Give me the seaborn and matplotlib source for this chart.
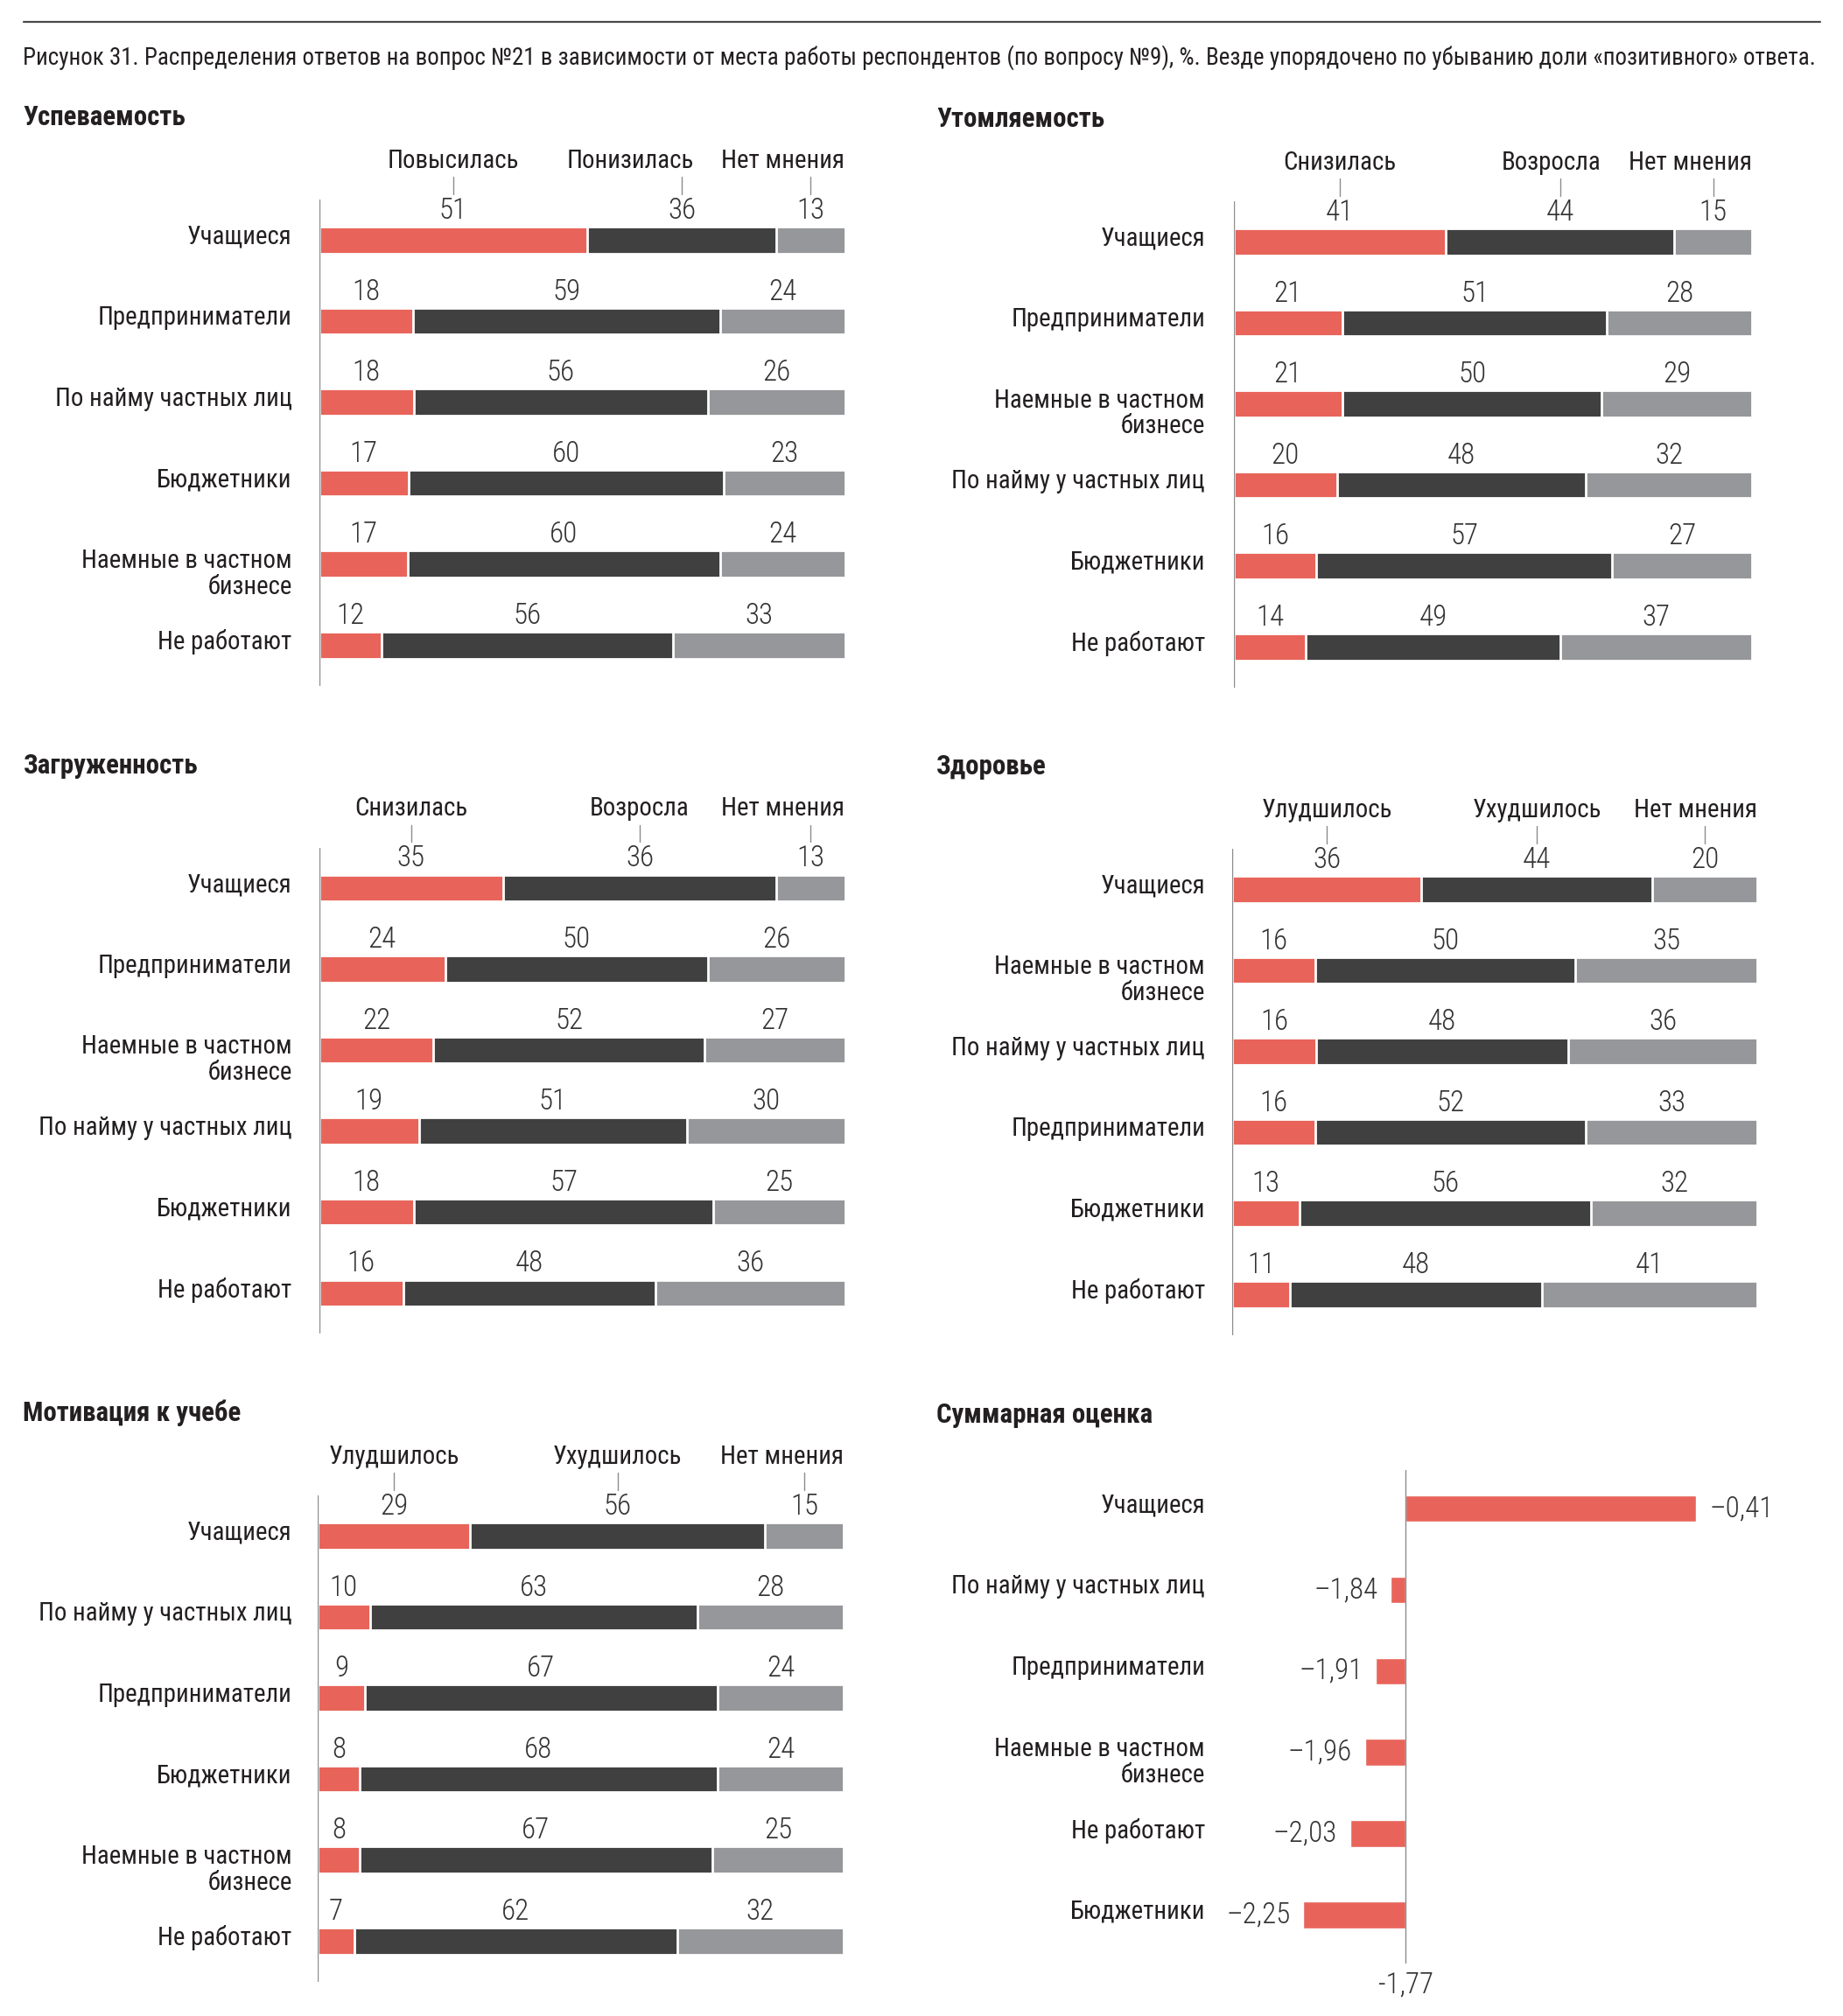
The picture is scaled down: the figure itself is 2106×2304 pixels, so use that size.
import matplotlib
matplotlib.use("Agg")
import matplotlib.pyplot as plt
import matplotlib.transforms as mtransforms
from matplotlib import font_manager as fm
import seaborn as sns
import pandas as pd

W, H, DPI = 2106, 2304, 100

RED = "#E8645A"
DARK = "#404040"
GREY = "#96979A"
AXIS = "#8C8C8C"
INK = "#231F20"

TITLE = ("Рисунок 31. Распределения ответов на вопрос №21 в зависимости от места работы "
         "респондентов (по вопросу №9), %. Везде упорядочено по убыванию доли «позитивного» ответа.")

# --- Успеваемость
usp_groups = ["Учащиеся", "Предприниматели", "По найму частных лиц", "Бюджетники",
              "Наемные в частном\nбизнесе", "Не работают"]
usp_answers = ["Повысилась", "Понизилась", "Нет мнения"]
usp_pos = [51, 18, 18, 17, 17, 12]
usp_neg = [36, 59, 56, 60, 60, 56]
usp_none = [13, 24, 26, 23, 24, 33]

# --- Утомляемость
utm_groups = ["Учащиеся", "Предприниматели", "Наемные в частном\nбизнесе",
              "По найму у частных лиц", "Бюджетники", "Не работают"]
utm_answers = ["Снизилась", "Возросла", "Нет мнения"]
utm_pos = [41, 21, 21, 20, 16, 14]
utm_neg = [44, 51, 50, 48, 57, 49]
utm_none = [15, 28, 29, 32, 27, 37]

# --- Загруженность (bar for Учащиеся is drawn ~52 in the source, but printed as 36)
zag_groups = ["Учащиеся", "Предприниматели", "Наемные в частном\nбизнесе",
              "По найму у частных лиц", "Бюджетники", "Не работают"]
zag_answers = ["Снизилась", "Возросла", "Нет мнения"]
zag_pos = [35, 24, 22, 19, 18, 16]
zag_neg = [52, 50, 52, 51, 57, 48]
zag_neg_printed = [36, 50, 52, 51, 57, 48]
zag_none = [13, 26, 27, 30, 25, 36]

# --- Здоровье
zdr_groups = ["Учащиеся", "Наемные в частном\nбизнесе", "По найму у частных лиц",
              "Предприниматели", "Бюджетники", "Не работают"]
zdr_answers = ["Улудшилось", "Ухудшилось", "Нет мнения"]
zdr_pos = [36, 16, 16, 16, 13, 11]
zdr_neg = [44, 50, 48, 52, 56, 48]
zdr_none = [20, 35, 36, 33, 32, 41]

# --- Мотивация к учебе
mot_groups = ["Учащиеся", "По найму у частных лиц", "Предприниматели", "Бюджетники",
              "Наемные в частном\nбизнесе", "Не работают"]
mot_answers = ["Улудшилось", "Ухудшилось", "Нет мнения"]
mot_pos = [29, 10, 9, 8, 8, 7]
mot_neg = [56, 63, 67, 68, 67, 62]
mot_none = [15, 28, 24, 24, 25, 32]

# --- Суммарная оценка
sum_groups = ["Учащиеся", "По найму у частных лиц", "Предприниматели",
              "Наемные в частном\nбизнесе", "Не работают", "Бюджетники"]
sum_scores = [-0.41, -1.84, -1.91, -1.96, -2.03, -2.25]
sum_base = -1.77

sns.set_style("white")
names = {f.name for f in fm.fontManager.ttflist}
stretch = "normal"
family = "DejaVu Sans"
for cand in ["Liberation Sans Narrow", "Roboto Condensed", "Open Sans Condensed"]:
    if cand in names:
        family = cand
        break
else:
    if any(f.name == "DejaVu Sans" and f.stretch == "condensed" for f in fm.fontManager.ttflist):
        stretch = "condensed"
    elif "Roboto" in names:
        family = "Roboto"
plt.rcParams["font.family"] = [family, "DejaVu Sans"]
plt.rcParams["font.stretch"] = stretch

fig = plt.figure(figsize=(W / DPI, H / DPI), dpi=DPI)
renderer = fig.canvas.get_renderer()


def fit_size(text, target_px, weight="normal"):
    t = fig.text(0, 0, text, fontsize=20, fontweight=weight)
    w = t.get_window_extent(renderer).width
    t.remove()
    return 20 * target_px / w


FS_TITLE = fit_size(TITLE, 2041)
FS_HEAD = fit_size("Успеваемость", 185, "bold")
FS_ROW = fit_size("Предприниматели", 220)
FS_LEG = fit_size("Нет мнения", 140)
FS_VAL = fit_size("–1,84", 73, "light")
VAL_KW = dict(fontsize=FS_VAL, fontweight="light", color="#333333")


def axes_px(left, top, width, height):
    return fig.add_axes([left / W, 1 - (top + height) / H, width / W, height / H])


def clean(ax):
    ax.set(xlabel="", ylabel="")
    ax.set_xticks([])
    ax.set_yticks([])
    sns.despine(ax=ax, left=True, bottom=True)


def row_labels(ax, groups, label_x):
    tr = mtransforms.blended_transform_factory(fig.transFigure, ax.transData)
    for i, g in enumerate(groups):
        for k, line in enumerate(g.split("\n")):
            ax.text(label_x / W, i - 0.04 + 0.32 * k, line, transform=tr, ha="right",
                    va="center", fontsize=FS_ROW, color=INK, clip_on=False)


def legend_row(ax, mids, answers, width_px):
    # answer names sit above the first bar; last one is flush with the bar end,
    # the middle one is nudged left if it would run into it
    for m in mids:
        ax.plot([m, m], [-0.78, -0.57], color=AXIS, lw=1, clip_on=False)
    kw = dict(va="center", fontsize=FS_LEG, color=INK, clip_on=False)
    ax.text(mids[0], -0.98, answers[0], ha="center", **kw)
    last = ax.text(100, -0.98, answers[2], ha="right", **kw)
    mid = ax.text(mids[1], -0.98, answers[1], ha="center", **kw)
    last_left = last.get_window_extent(renderer).x0
    mid_right = mid.get_window_extent(renderer).x1
    gap = 32
    if mid_right > last_left - gap:
        shift = (mid_right - (last_left - gap)) * 100 / width_px
        mid.set_x(mids[1] - shift)


def stacked_panel(left, top, right, label_x, title, title_x, groups, answers,
                  pos, neg, none, printed=None):
    row = 92.6
    ax = axes_px(left, top, right - left, 6 * row)
    df = pd.DataFrame({"group": groups, "pos": pos, "neg": neg, "none": none})
    tot = df[["pos", "neg", "none"]].sum(axis=1)
    df["c1"] = df["pos"] / tot * 100
    df["c2"] = (df["pos"] + df["neg"]) / tot * 100
    df["c3"] = 100.0
    for col, color in [("c3", GREY), ("c2", DARK), ("c1", RED)]:
        sns.barplot(data=df, x=col, y="group", order=groups, orient="h", color=color,
                    saturation=1, width=0.33, edgecolor="white", linewidth=2,
                    errorbar=None, ax=ax)
    clean(ax)
    ax.set_xlim(0, 100)
    ax.set_ylim(5.5, -0.5)
    ax.axvline(0, color=AXIS, lw=1, zorder=5)

    neg_txt = printed if printed is not None else neg
    for i in range(len(groups)):
        c1, c2 = df["c1"][i], df["c2"][i]
        mids = [c1 / 2, (c1 + c2) / 2, (c2 + 100) / 2]
        for m, v in zip(mids, [pos[i], neg_txt[i], none[i]]):
            ax.text(m, i - 0.36, str(v), ha="center", va="center", clip_on=False, **VAL_KW)
        if i == 0:
            legend_row(ax, mids, answers, right - left)

    row_labels(ax, groups, label_x)
    fig.text(title_x / W, 1 - (top - 94) / H, title, fontsize=FS_HEAD, fontweight="bold",
             color=INK, ha="left", va="center")
    return ax


# top rule and caption
fig.add_artist(plt.Line2D([26.5 / W, 2080 / W], [1 - 25 / H, 1 - 25 / H],
                          color="#4A4A4A", lw=1.6))
fig.text(26.5 / W, 1 - 66 / H, TITLE, fontsize=FS_TITLE, color=INK, ha="left", va="center")

stacked_panel(364.5, 228, 965.5, 333.6, "Успеваемость", 26.5,
              usp_groups, usp_answers, usp_pos, usp_neg, usp_none)
stacked_panel(1409.5, 230, 2002, 1377, "Утомляемость", 1070,
              utm_groups, utm_answers, utm_pos, utm_neg, utm_none)
stacked_panel(364.5, 968.5, 965.5, 333.6, "Загруженность", 26.5,
              zag_groups, zag_answers, zag_pos, zag_neg, zag_none, zag_neg_printed)
stacked_panel(1408, 970, 2008, 1377, "Здоровье", 1070,
              zdr_groups, zdr_answers, zdr_pos, zdr_neg, zdr_none)
stacked_panel(363, 1709, 964, 333.6, "Мотивация к учебе", 26.5,
              mot_groups, mot_answers, mot_pos, mot_neg, mot_none)

# summary panel
px_per_unit = 244.0
axis_x = 1606.4
left_px, right_px = 1440, 2080
top = 1680
rowh = 92.9
ax = axes_px(left_px, top, right_px - left_px, 6.075 * rowh)
sdf = pd.DataFrame({"group": sum_groups, "score": sum_scores})
sdf["delta"] = sdf["score"] - sum_base
sns.barplot(data=sdf, x="delta", y="group", order=sum_groups, orient="h", color=RED,
            saturation=1, width=0.33, edgecolor="white", linewidth=1, errorbar=None, ax=ax)
clean(ax)
ax.set_xlim((left_px - axis_x) / px_per_unit, (right_px - axis_x) / px_per_unit)
ax.set_ylim(5.6, -0.475)
ax.axvline(0, color=AXIS, lw=1, zorder=5)
off = 15 / px_per_unit
for i, (s, d) in enumerate(zip(sdf["score"], sdf["delta"])):
    txt = "–" + f"{abs(s):.2f}".replace(".", ",")
    if d >= 0:
        ax.text(d + off, i, txt, ha="left", va="center", **VAL_KW)
    else:
        ax.text(d - off, i, txt, ha="right", va="center", **VAL_KW)
ax.text(0, 5.86, f"{sum_base:.2f}".replace(".", ","), ha="center", va="center",
        clip_on=False, **VAL_KW)
row_labels(ax, sum_groups, 1377)
fig.text(1070 / W, 1 - 1616.7 / H, "Суммарная оценка", fontsize=FS_HEAD, fontweight="bold",
         color=INK, ha="left", va="center")

fig.savefig("out.png", dpi=DPI)
